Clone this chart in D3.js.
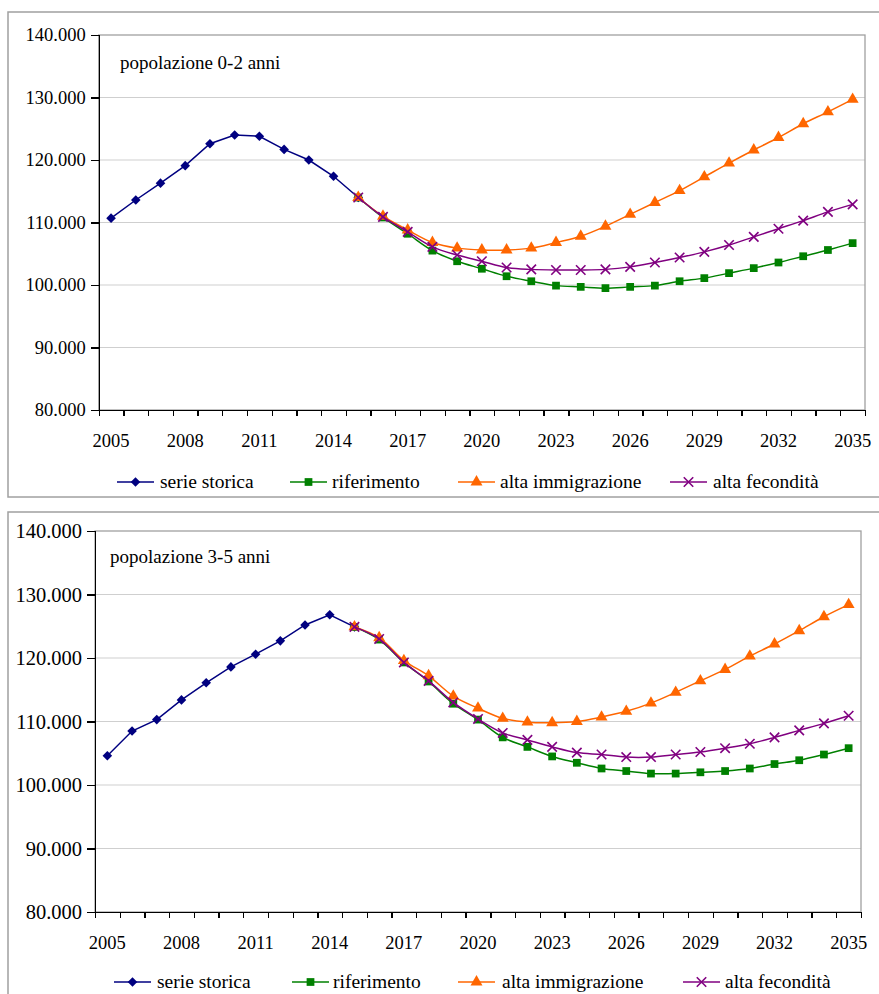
<!DOCTYPE html>
<html>
<head>
<meta charset="utf-8">
<style>
body{margin:0;background:#fff;font-family:"Liberation Serif","DejaVu Serif",serif;color:#000;}
.grid line{stroke:#cfcfcf;stroke-width:1.2;}
.axis path,.axis line{stroke:#000;stroke-width:1.3;shape-rendering:crispEdges;}
.axis text{font-family:"Liberation Serif","DejaVu Serif",serif;fill:#000;}
.frame{fill:none;stroke:#a0a0a0;stroke-width:1.5;}
.plotbox{fill:none;stroke:#a0a0a0;stroke-width:1.3;}
.ttl{font-family:"Liberation Serif","DejaVu Serif",serif;font-size:19px;fill:#000;}
.leg{font-family:"Liberation Serif","DejaVu Serif",serif;font-size:19.5px;fill:#000;}
</style>
</head>
<body>
<svg id="chart" width="879" height="994"></svg>
<script src="https://cdnjs.cloudflare.com/ajax/libs/d3/7.8.5/d3.min.js"></script>
<script>

// years on the x axis
var years = d3.range(2005, 2036);
var histYears = d3.range(2005, 2016);
var projYears = d3.range(2015, 2036);
var yTicks = [80000, 90000, 100000, 110000, 120000, 130000, 140000];

var seriesNames = ["serie storica", "riferimento", "alta immigrazione", "alta fecondità"];

// popolazione 0-2 anni
var storica02 = [110700, 113600, 116300, 119100, 122600, 124000, 123800, 121700, 120000, 117400, 114000];
var rif02 = [114000, 110800, 108200, 105500, 103800, 102600, 101400, 100600, 99900, 99700, 99500, 99700, 99900, 100600, 101100, 101900, 102700, 103600, 104600, 105600, 106700];
var imm02 = [114000, 111000, 108800, 106800, 105900, 105600, 105600, 105900, 106800, 107800, 109400, 111300, 113200, 115100, 117300, 119500, 121600, 123600, 125800, 127700, 129700];
var fec02 = [114000, 110900, 108500, 106100, 104800, 103800, 102800, 102500, 102400, 102400, 102500, 102900, 103600, 104400, 105300, 106400, 107700, 109000, 110300, 111700, 112900];

// popolazione 3-5 anni
var storica35 = [104600, 108500, 110300, 113400, 116100, 118600, 120600, 122700, 125200, 126800, 124900];
var rif35 = [124900, 122900, 119300, 116300, 112800, 110300, 107500, 106000, 104500, 103500, 102600, 102200, 101800, 101800, 102000, 102200, 102600, 103300, 103900, 104800, 105800];
var imm35 = [124900, 123200, 119600, 117200, 114000, 112100, 110500, 109900, 109800, 110000, 110700, 111600, 112900, 114600, 116400, 118200, 120300, 122200, 124300, 126500, 128400];
var fec35 = [124900, 123000, 119300, 116400, 113000, 110400, 108200, 107100, 106000, 105100, 104800, 104400, 104400, 104800, 105200, 105800, 106500, 107500, 108600, 109700, 110900];

var colors = ["#000080", "#008000", "#ff6600", "#800080"];
var symbols = [d3.symbolSquare, d3.symbolSquare, d3.symbolTriangle, d3.symbolTimes];
var symSize = [46, 60, 62, 60];
var symRot = [45, 0, 0, 0];

var itFormat = d3.formatLocale({decimal: ",", thousands: ".", grouping: [3], currency: ["", "€"]}).format(",");

var panels = [
  {title: "popolazione 0-2 anni", data: [storica02, rif02, imm02, fec02],
   frame: [8, 12, 880, 497], plot: {l: 98.7, t: 35, r: 865, b: 410},
   titleX: 120, titleY: 69, yFont: 18.5, legY: 482, leg: [[117, 160], [290, 332], [458, 500], [670, 713]]},
  {title: "popolazione 3-5 anni", data: [storica35, rif35, imm35, fec35],
   frame: [8, 512, 880, 1000], plot: {l: 95, t: 531, r: 861, b: 912},
   titleX: 110, titleY: 563, yFont: 20.5, legY: 982, leg: [[114, 157], [292, 333], [458, 502], [683, 725]]}
];

var svg = d3.select("#chart");

function marker(g, i, px, py) {
  var p = g.append("path")
    .attr("d", d3.symbol().type(symbols[i]).size(symSize[i]))
    .attr("transform", "translate(" + px + "," + py + ") rotate(" + symRot[i] + ")");
  if (i == 3) p.attr("fill", "none").attr("stroke", colors[i]).attr("stroke-width", 1.6);
  else p.attr("fill", colors[i]);
  return p;
}

panels.forEach(function(P) {
  var g = svg.append("g");
  g.append("rect").attr("class", "frame")
    .attr("x", P.frame[0]).attr("y", P.frame[1])
    .attr("width", P.frame[2] - P.frame[0]).attr("height", P.frame[3] - P.frame[1]);

  var x = d3.scaleBand().domain(years).range([P.plot.l, P.plot.r]).padding(0);
  var xEdge = d3.scaleLinear().domain([0, years.length]).range([P.plot.l, P.plot.r]);
  var y = d3.scaleLinear().domain([80000, 140000]).range([P.plot.b, P.plot.t]);
  var cx = function(yr) { return x(yr) + x.bandwidth() / 2; };

  // gridlines
  g.append("g").attr("class", "grid")
    .selectAll("line").data(yTicks.slice(1, -1)).enter().append("line")
    .attr("x1", P.plot.l).attr("x2", P.plot.r)
    .attr("y1", function(d) { return y(d); }).attr("y2", function(d) { return y(d); });

  g.append("rect").attr("class", "plotbox")
    .attr("x", P.plot.l).attr("y", P.plot.t)
    .attr("width", P.plot.r - P.plot.l).attr("height", P.plot.b - P.plot.t);

  // y axis
  g.append("g").attr("class", "axis")
    .attr("transform", "translate(" + P.plot.l + ",0)")
    .call(d3.axisLeft(y).tickValues(yTicks).tickSize(8).tickPadding(5).tickFormat(itFormat))
    .attr("font-family", null)
    .attr("font-size", P.yFont);

  // x axis: ticks between categories, labels every 3 years
  g.append("g").attr("class", "axis")
    .attr("transform", "translate(0," + P.plot.b + ")")
    .call(d3.axisBottom(xEdge).tickValues(d3.range(years.length + 1)).tickSize(6).tickFormat(""));
  var xa = g.append("g").attr("class", "axis")
    .attr("transform", "translate(0," + P.plot.b + ")")
    .call(d3.axisBottom(x).tickSize(0).tickPadding(24)
      .tickValues(years.filter(function(d) { return (d - 2005) % 3 == 0; })))
    .attr("font-family", null)
    .attr("font-size", 18.5);
  xa.select(".domain").remove();

  g.append("text").attr("class", "ttl").attr("x", P.titleX).attr("y", P.titleY).text(P.title);

  // series
  P.data.forEach(function(vals, i) {
    var yrs = i == 0 ? histYears : projYears;
    var pts = vals.map(function(v, k) { return [cx(yrs[k]), y(v)]; });
    var line = d3.line().curve(i == 0 ? d3.curveLinear : d3.curveCatmullRom.alpha(0.5));
    g.append("path").attr("d", line(pts))
      .attr("fill", "none").attr("stroke", colors[i]).attr("stroke-width", 1.5);
    pts.forEach(function(p) { marker(g, i, p[0], p[1]); });
  });

  // legend
  P.leg.forEach(function(L, i) {
    g.append("line").attr("x1", L[0]).attr("x2", L[0] + 37)
      .attr("y1", P.legY).attr("y2", P.legY)
      .attr("stroke", colors[i]).attr("stroke-width", 1.5);
    marker(g, i, L[0] + 18.5, P.legY);
    g.append("text").attr("class", "leg").attr("x", L[1]).attr("y", P.legY + 6).text(seriesNames[i]);
  });
});

</script>
</body>
</html>
